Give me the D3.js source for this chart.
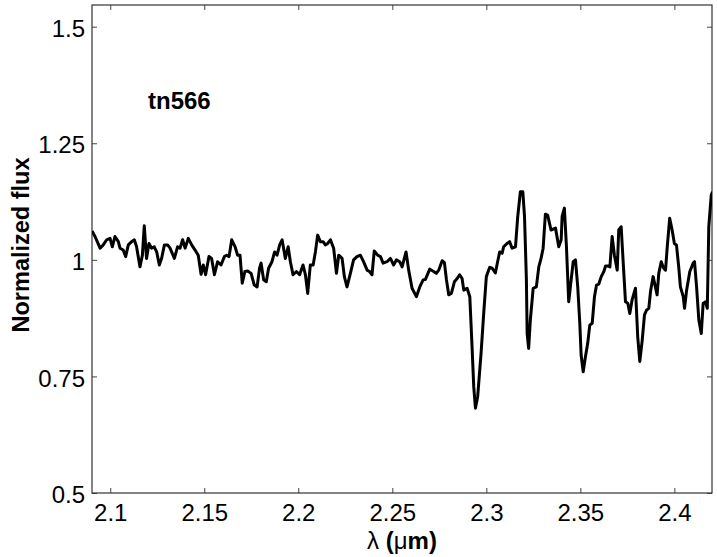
<!DOCTYPE html>
<html>
<head>
<meta charset="utf-8">
<script src="https://cdn.jsdelivr.net/npm/d3@7/dist/d3.min.js"></script>
<style>
  html, body { margin: 0; padding: 0; background: #fff; }
  svg { display: block; }
  text { font-family: "Liberation Sans", Arial, Helvetica, sans-serif; fill: #000; }
</style>
</head>
<body>
<svg id="chart" width="717" height="557"></svg>
<script>
// ---- data ----
const wavelength = [
  2.0903, 2.0919, 2.0946, 2.0963, 2.0981, 2.0999, 2.1011, 2.1025, 2.1043, 2.1052,
  2.1069, 2.1082, 2.1096, 2.1114, 2.1128, 2.1140, 2.1158, 2.1171, 2.1181, 2.1193,
  2.1206, 2.1220, 2.1234, 2.1247, 2.1261, 2.1273, 2.1288, 2.1305, 2.1318, 2.1341,
  2.1358, 2.1371, 2.1385, 2.1398, 2.1415, 2.1433, 2.1451, 2.1468, 2.1483, 2.1495,
  2.1507, 2.1525, 2.1539, 2.1554, 2.1571, 2.1589, 2.1607, 2.1619, 2.1632, 2.1646,
  2.1664, 2.1677, 2.1690, 2.1702, 2.1716, 2.1731, 2.1749, 2.1766, 2.1781, 2.1794,
  2.1802, 2.1816, 2.1830, 2.1842, 2.1860, 2.1874, 2.1887, 2.1901, 2.1914, 2.1931,
  2.1946, 2.1958, 2.1972, 2.1990, 2.2007, 2.2025, 2.2038, 2.2050, 2.2064, 2.2079,
  2.2091, 2.2103, 2.2117, 2.2132, 2.2144, 2.2156, 2.2171, 2.2188, 2.2203, 2.2215,
  2.2233, 2.2245, 2.2259, 2.2277, 2.2294, 2.2312, 2.2330, 2.2347, 2.2366, 2.2379,
  2.2392, 2.2404, 2.2422, 2.2437, 2.2451, 2.2472, 2.2490, 2.2507, 2.2522, 2.2539,
  2.2552, 2.2573, 2.2587, 2.2605, 2.2628, 2.2646, 2.2664, 2.2676, 2.2699, 2.2720,
  2.2734, 2.2747, 2.2765, 2.2777, 2.2788, 2.2800, 2.2814, 2.2830, 2.2845, 2.2858,
  2.2871, 2.2880, 2.2898, 2.2912, 2.2924, 2.2933, 2.2942, 2.2954, 2.2972, 2.2986,
  2.3000, 2.3018, 2.3031, 2.3048, 2.3060, 2.3071, 2.3084, 2.3092, 2.3110, 2.3124,
  2.3137, 2.3155, 2.3167, 2.3181, 2.3194, 2.3203, 2.3213, 2.3217, 2.3225, 2.3234,
  2.3249, 2.3266, 2.3279, 2.3291, 2.3302, 2.3314, 2.3326, 2.3344, 2.3368, 2.3385,
  2.3398, 2.3403, 2.3415, 2.3426, 2.3438, 2.3451, 2.3462, 2.3474, 2.3486, 2.3497,
  2.3504, 2.3515, 2.3527, 2.3539, 2.3550, 2.3563, 2.3575, 2.3586, 2.3598, 2.3611,
  2.3625, 2.3634, 2.3646, 2.3657, 2.3669, 2.3681, 2.3696, 2.3704, 2.3717, 2.3727,
  2.3740, 2.3752, 2.3763, 2.3775, 2.3793, 2.3805, 2.3816, 2.3829, 2.3841, 2.3852,
  2.3864, 2.3873, 2.3887, 2.3899, 2.3908, 2.3917, 2.3930, 2.3943, 2.3953, 2.3962,
  2.3975, 2.3988, 2.4000, 2.4011, 2.4023, 2.4032, 2.4047, 2.4054, 2.4065, 2.4082,
  2.4100, 2.4107, 2.4118, 2.4130, 2.4143, 2.4153, 2.4166, 2.4175, 2.4183, 2.4196,
  2.4203
];
const flux = [
  1.062, 1.050, 1.025, 1.032, 1.043, 1.046, 1.028, 1.050, 1.039, 1.025,
  1.021, 1.007, 1.032, 1.039, 1.043, 1.028, 0.985, 1.010, 1.073, 1.003,
  1.035, 1.025, 1.028, 1.017, 0.989, 1.003, 1.032, 1.032, 1.025, 1.003,
  1.028, 1.025, 1.043, 1.025, 1.046, 1.032, 1.021, 1.010, 0.969, 0.989,
  0.968, 1.007, 1.003, 0.968, 0.996, 0.989, 1.007, 1.010, 1.007, 1.043,
  1.028, 1.010, 1.010, 0.950, 0.975, 0.976, 0.971, 0.946, 0.942, 0.982,
  0.993, 0.957, 0.953, 0.982, 0.996, 1.017, 1.010, 1.032, 1.043, 1.003,
  1.028, 0.996, 0.968, 0.975, 0.968, 0.989, 0.968, 0.928, 0.989, 0.989,
  1.017, 1.053, 1.039, 1.039, 1.032, 1.035, 1.043, 1.025, 0.971, 1.010,
  1.003, 0.964, 0.942, 0.971, 1.000, 1.007, 1.010, 0.996, 0.978, 0.975,
  0.968, 1.019, 1.010, 1.007, 0.993, 0.996, 1.003, 0.989, 1.000, 0.996,
  0.985, 1.017, 0.978, 0.939, 0.921, 0.942, 0.957, 0.958, 0.980, 0.975,
  0.971, 0.978, 0.998, 0.994, 0.957, 0.925, 0.928, 0.953, 0.960, 0.968,
  0.960, 0.935, 0.939, 0.921, 0.814, 0.728, 0.682, 0.707, 0.800, 0.885,
  0.964, 0.984, 0.982, 0.972, 0.996, 1.017, 1.014, 1.028, 1.035, 1.039,
  1.025, 1.028, 1.093, 1.146, 1.146, 1.093, 0.957, 0.842, 0.810, 0.871,
  0.939, 0.942, 0.985, 1.003, 1.025, 1.098, 1.096, 1.064, 1.068, 1.028,
  1.043, 1.093, 1.111, 1.028, 0.910, 0.957, 0.996, 1.000, 0.942, 0.864,
  0.796, 0.760, 0.792, 0.821, 0.860, 0.864, 0.921, 0.946, 0.948, 0.964,
  0.975, 0.987, 0.987, 0.985, 1.050, 1.010, 0.978, 1.064, 1.071, 1.000,
  0.910, 0.907, 0.885, 0.914, 0.939, 0.835, 0.782, 0.828, 0.882, 0.892,
  0.896, 0.932, 0.964, 0.942, 0.925, 0.971, 0.996, 0.982, 0.978, 1.028,
  1.089, 1.064, 1.035, 1.032, 0.985, 0.942, 0.921, 0.896, 0.935, 0.975,
  0.993, 0.996, 0.942, 0.871, 0.842, 0.907, 0.910, 0.896, 1.071, 1.139,
  1.146
];
const xTicks = [2.1, 2.15, 2.2, 2.25, 2.3, 2.35, 2.4];
const xTickLabels = ["2.1", "2.15", "2.2", "2.25", "2.3", "2.35", "2.4"];
const yTicks = [0.5, 0.75, 1, 1.25, 1.5];
const yTickLabels = ["0.5", "0.75", "1", "1.25", "1.5"];
const xDomain = [2.0903, 2.4200];
const yDomain = [0.5, 1.5465];
const title = "tn566";

// ---- layout ----
const svg = d3.select("#chart");
const L = 92, R = 712, T = 5, B = 493;
const x = d3.scaleLinear().domain(xDomain).range([L, R]);
const y = d3.scaleLinear().domain(yDomain).range([B, T]);
const tickColor = "#444";
const tickLen = 5;

svg.append("defs").append("clipPath").attr("id", "clip")
  .append("rect").attr("x", L).attr("y", T).attr("width", R - L).attr("height", B - T);

const fmtX = d => xTickLabels[xTicks.indexOf(d)];
const fmtY = d => yTickLabels[yTicks.indexOf(d)];

const gBottom = svg.append("g").attr("transform", `translate(0,${B})`)
  .call(d3.axisBottom(x).tickValues(xTicks).tickFormat(fmtX).tickSizeInner(-tickLen).tickSizeOuter(0).tickPadding(11));
const gTop = svg.append("g").attr("transform", `translate(0,${T})`)
  .call(d3.axisTop(x).tickValues(xTicks).tickFormat("").tickSizeInner(-tickLen).tickSizeOuter(0));
const gLeft = svg.append("g").attr("transform", `translate(${L},0)`)
  .call(d3.axisLeft(y).tickValues(yTicks).tickFormat(fmtY).tickSizeInner(-tickLen).tickSizeOuter(0).tickPadding(7));
const gRight = svg.append("g").attr("transform", `translate(${R},0)`)
  .call(d3.axisRight(y).tickValues(yTicks).tickFormat("").tickSizeInner(-tickLen).tickSizeOuter(0));

[gBottom, gTop, gLeft, gRight].forEach(g => {
  g.select(".domain").remove();
  g.selectAll(".tick line").attr("stroke", tickColor).attr("stroke-width", 1);
  g.selectAll(".tick text").style("font-size", "24px").attr("fill", "#000");
});
gLeft.selectAll(".tick text").attr("dy", "0.4em");

// box
svg.append("rect").attr("x", L).attr("y", T).attr("width", R - L).attr("height", B - T)
  .attr("fill", "none").attr("stroke", "#333").attr("stroke-width", 1.2);

// spectrum line
const data = wavelength.map((w, i) => [w, flux[i]]);
svg.append("path")
  .datum(data)
  .attr("clip-path", "url(#clip)")
  .attr("fill", "none")
  .attr("stroke", "#000")
  .attr("stroke-width", 3)
  .attr("stroke-linejoin", "round")
  .attr("d", d3.line().x(d => x(d[0])).y(d => y(d[1])));

// label
svg.append("text").attr("x", 148).attr("y", 109)
  .style("font-size", "24px").style("font-weight", "bold").text(title);

// x-axis label
const xl = svg.append("text").attr("x", (L + R) / 2).attr("y", 549)
  .attr("text-anchor", "middle").style("font-size", "24px");
xl.append("tspan").text("λ ");
xl.append("tspan").style("font-weight", "bold").text("(");
xl.append("tspan").text("μ");
xl.append("tspan").style("font-weight", "bold").text("m)");

// y-axis label
svg.append("text")
  .attr("transform", `translate(29,${(T + B) / 2 - 4}) rotate(-90)`)
  .attr("text-anchor", "middle")
  .style("font-size", "23.5px").style("font-weight", "bold")
  .text("Normalized flux");
</script>
</body>
</html>
